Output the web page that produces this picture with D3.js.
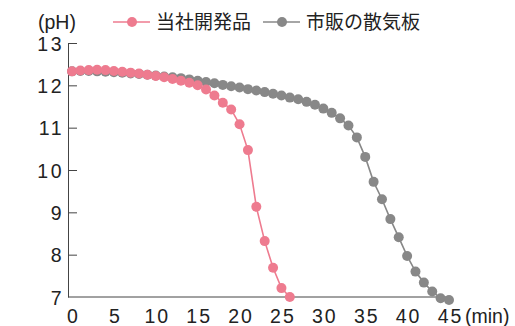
<!DOCTYPE html>
<html>
<head>
<meta charset="utf-8">
<script src="https://cdn.jsdelivr.net/npm/d3@7"></script>
<style>
  body { margin: 0; background: #fff; }
  svg text { font-family: "Liberation Sans", Arial, sans-serif; fill: #222; }
  .jp { font-family: "Noto Sans CJK JP", sans-serif; }
</style>
</head>
<body>
<svg id="chart" width="515" height="326"></svg>
<script>
// pH over time (minutes) for the two diffusers
const seriesNames = ["当社開発品", "市販の散気板"];
const seriesColors = ["#ee7b8f", "#888888"];

const minutesOurs = [0, 1, 2, 3, 4, 5, 6, 7, 8, 9, 10, 11, 12, 13, 14, 15, 16, 17, 18, 19, 20, 21, 22, 23, 24, 25, 26];
const phOurs = [12.33, 12.35, 12.36, 12.37, 12.36, 12.34, 12.32, 12.30, 12.28, 12.25, 12.22, 12.19, 12.15, 12.11,
                12.06, 12.00, 11.90, 11.76, 11.59, 11.43, 11.08, 10.47, 9.13, 8.32, 7.69, 7.21, 7.00];

const minutesMarket = [0, 1, 2, 3, 4, 5, 6, 7, 8, 9, 10, 11, 12, 13, 14, 15, 16, 17, 18, 19, 20, 21, 22,
                       23, 24, 25, 26, 27, 28, 29, 30, 31, 32, 33, 34, 35, 36, 37, 38, 39, 40, 41, 42, 43, 44, 45];
const phMarket = [12.33, 12.34, 12.34, 12.33, 12.32, 12.31, 12.30, 12.28, 12.27, 12.25, 12.23, 12.21, 12.19, 12.17,
                  12.14, 12.11, 12.08, 12.05, 12.01, 11.98, 11.95, 11.91, 11.88, 11.84, 11.80, 11.76, 11.71, 11.67,
                  11.61, 11.54, 11.45, 11.35, 11.22, 11.05, 10.77, 10.31, 9.72, 9.31, 8.84, 8.41, 7.97, 7.60,
                  7.34, 7.13, 6.97, 6.93];

const xTicks = [0, 5, 10, 15, 20, 25, 30, 35, 40, 45];
const yTicks = [7, 8, 9, 10, 11, 12, 13];
const xUnit = "(min)";
const yUnit = "(pH)";

const svg = d3.select("#chart");
const axisX = 68;             // position of the vertical axis line
const x = d3.scaleLinear().domain([0, 45]).range([72, 449]);
const y = d3.scaleLinear().domain([7, 13]).range([297, 43]);
const axisColor = "#444";
const fmt = d3.format("d");

// y axis, ticks pointing inward
const gy = svg.append("g")
  .attr("transform", `translate(${axisX},0)`)
  .call(d3.axisLeft(y).tickValues(yTicks).tickFormat(fmt)
    .tickSizeInner(-9).tickSizeOuter(0).tickPadding(7));
gy.select(".domain").attr("stroke", axisColor);
gy.selectAll(".tick line").attr("stroke", axisColor);
gy.selectAll(".tick text").attr("font-size", 19.5).style("letter-spacing", "2.5px")
  .attr("x", -4).attr("dy", "0.36em").attr("fill", "#222");
gy.selectAll(".tick").filter(d => d === 7).select("line").remove();

// x axis, labels only, with the base line joined to the y axis
const gx = svg.append("g")
  .attr("transform", `translate(0,${y(7)})`)
  .call(d3.axisBottom(x).tickValues(xTicks).tickFormat(fmt).tickSize(0).tickPadding(12));
gx.select(".domain").remove();
gx.append("line")
  .attr("x1", axisX).attr("x2", x(45))
  .attr("stroke", axisColor);
gx.selectAll(".tick text").attr("font-size", 19.5).style("letter-spacing", "2px")
  .attr("dx", "1px").attr("fill", "#222");

svg.append("text")
  .attr("x", 465).attr("y", y(7) + 12).attr("dy", "0.71em")
  .attr("font-size", 19.5).text(xUnit);

svg.append("text")
  .attr("x", 38).attr("y", 22).attr("dy", "0.36em")
  .attr("font-size", 19.5).text(yUnit);

// series: market diffuser drawn first, ours on top
const series = [
  { name: seriesNames[1], color: seriesColors[1], xs: minutesMarket, ys: phMarket },
  { name: seriesNames[0], color: seriesColors[0], xs: minutesOurs, ys: phOurs }
];
const line = d3.line().x(d => x(d[0])).y(d => y(d[1]));

series.forEach(s => {
  const pts = s.xs.map((m, i) => [m, s.ys[i]]);
  const g = svg.append("g");
  g.append("path").datum(pts).attr("d", line)
    .attr("fill", "none").attr("stroke", s.color).attr("stroke-width", 1.6);
  g.selectAll("circle").data(pts).join("circle")
    .attr("cx", d => x(d[0])).attr("cy", d => y(d[1])).attr("r", 5)
    .attr("fill", s.color);
});

// legend
const legendItems = [
  { name: seriesNames[0], color: seriesColors[0], x0: 113 },
  { name: seriesNames[1], color: seriesColors[1], x0: 263 }
];
legendItems.forEach(it => {
  const g = svg.append("g").attr("transform", `translate(${it.x0},22)`);
  g.append("line").attr("x1", 0).attr("x2", 37).attr("stroke", it.color).attr("stroke-width", 1.6);
  g.append("circle").attr("cx", 19).attr("r", 5).attr("fill", it.color);
  g.append("text").attr("class", "jp").attr("x", 43).attr("dy", "0.36em")
    .attr("font-size", 19).text(it.name);
});
</script>
</body>
</html>
